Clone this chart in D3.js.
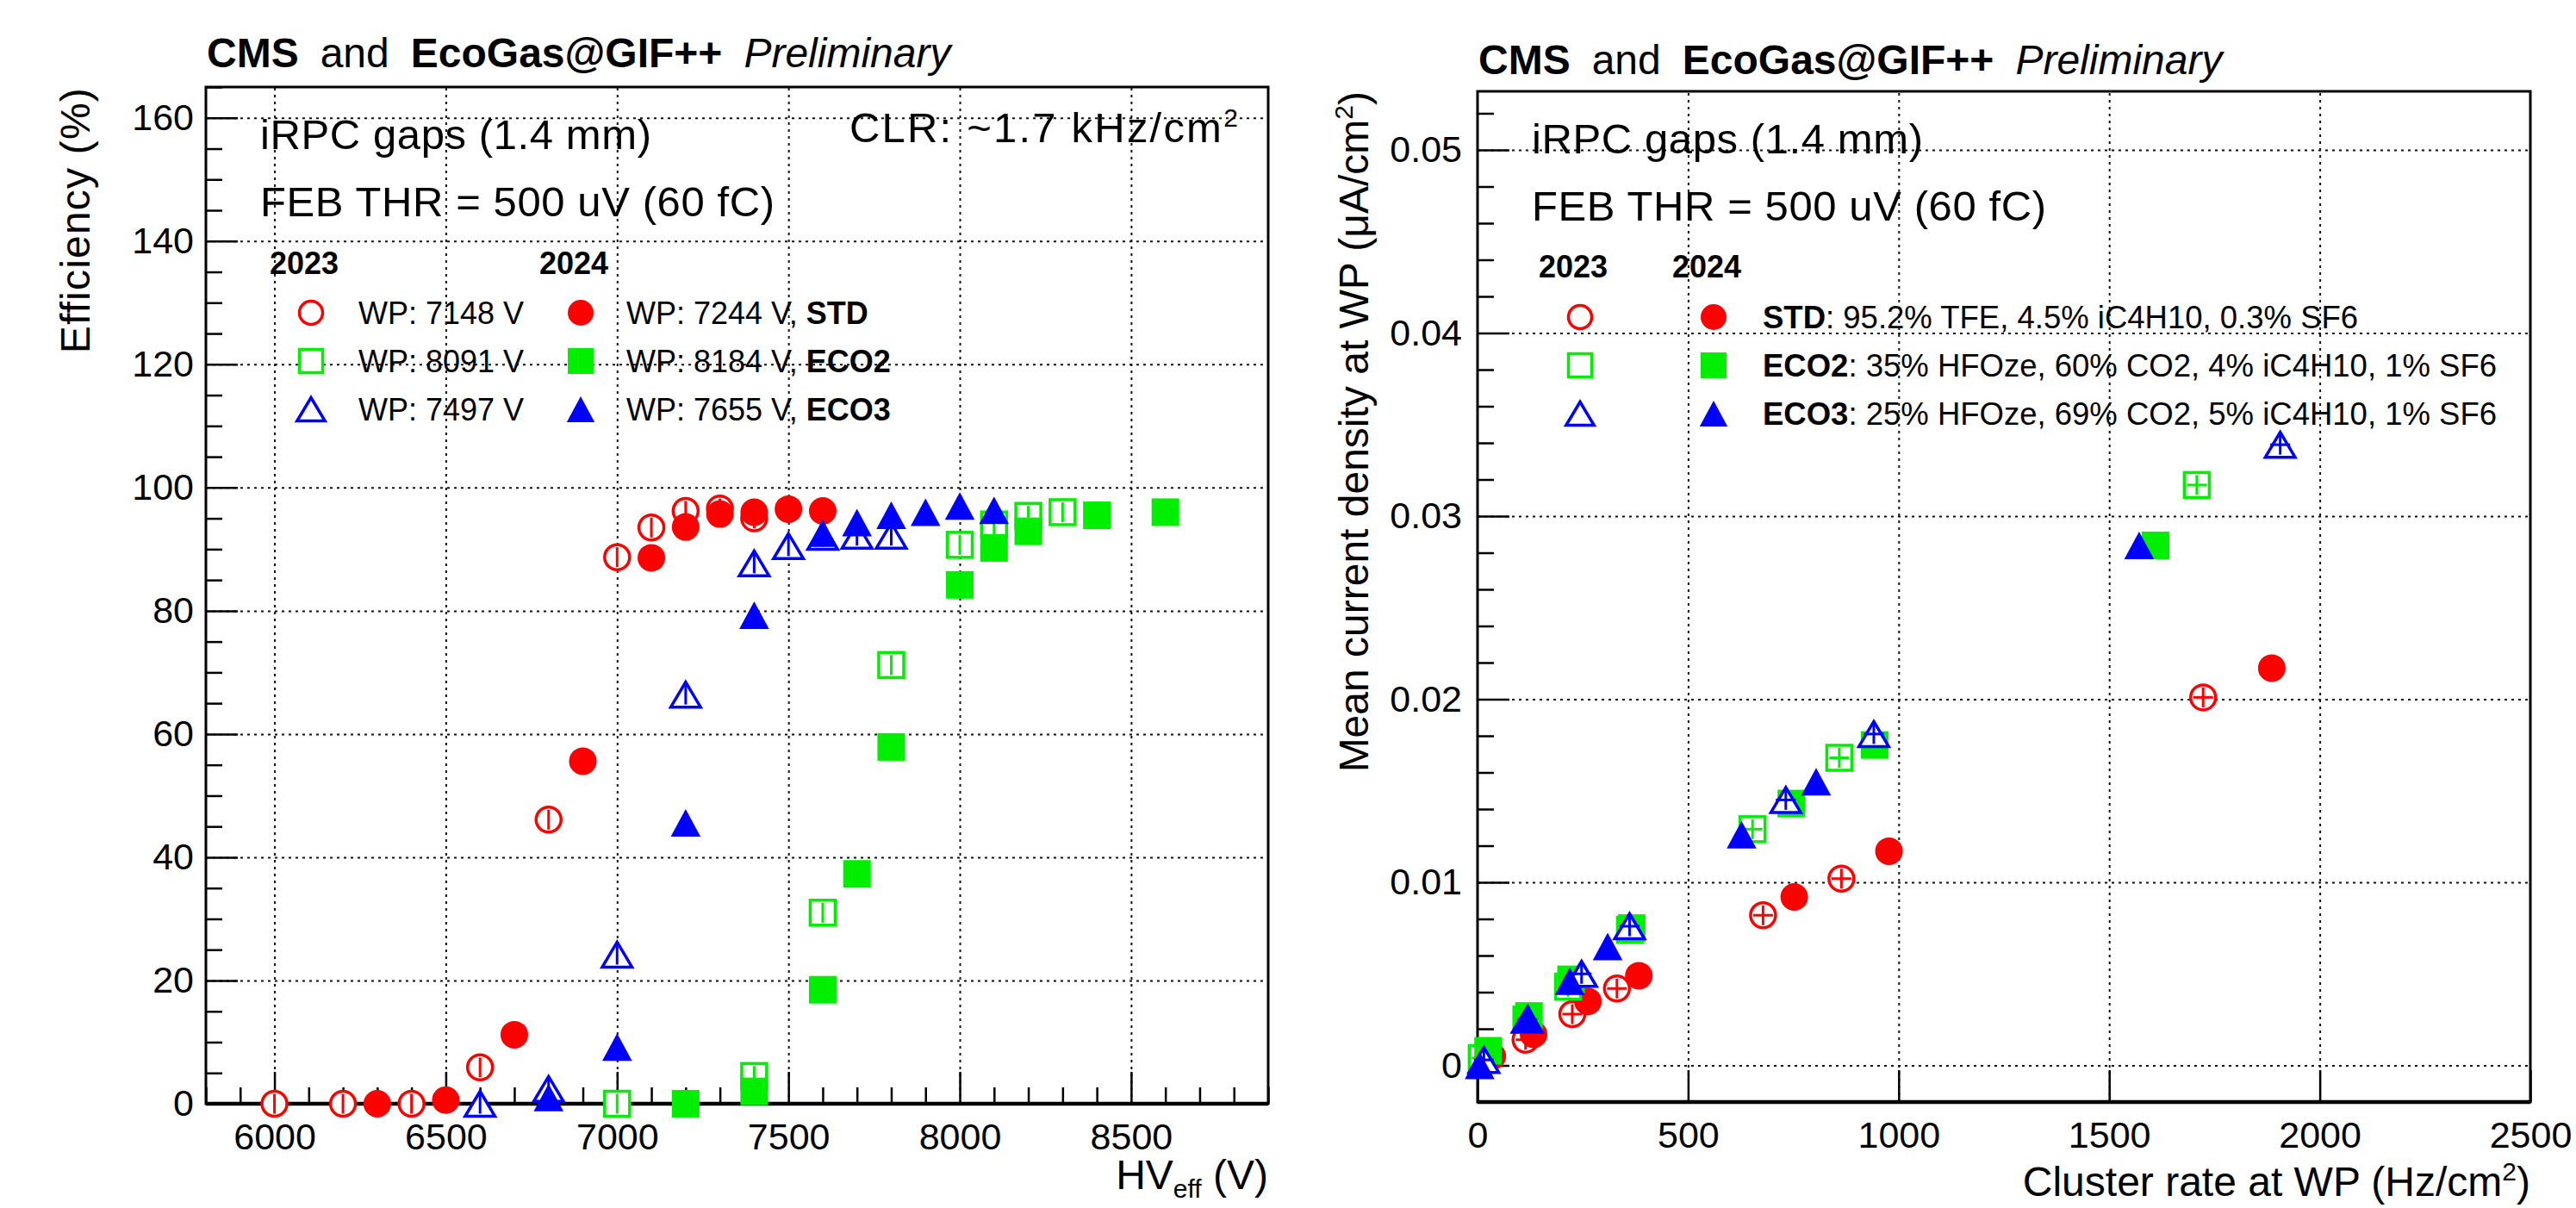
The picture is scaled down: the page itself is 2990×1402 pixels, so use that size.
<!DOCTYPE html>
<html>
<head>
<meta charset="utf-8">
<script src="https://cdn.jsdelivr.net/npm/d3@7"></script>
<style>
  body { margin: 0; background: #fff; }
  svg text { font-family: "Liberation Sans", Arial, Helvetica, sans-serif; fill: #000; }
</style>
</head>
<body>
<div id="chart"></div>
<script>
// ---- efficiency vs HV_eff (left pad) ----
const hvStd23  = [6000, 6200, 6400, 6600, 6800, 7000, 7100, 7200, 7300, 7400];
const effStd23 = [0, 0, 0, 5.9, 46.1, 88.7, 93.5, 96.2, 96.6, 95.0];
const hvStd24  = [6300, 6500, 6700, 6900, 7100, 7200, 7300, 7400, 7500, 7600];
const effStd24 = [0, 0.6, 11.2, 55.6, 88.6, 93.6, 95.7, 96.0, 96.5, 96.2];
const hvEco2_23  = [7000, 7400, 7600, 7800, 8000, 8100, 8200, 8300];
const effEco2_23 = [0, 4.5, 31.0, 71.2, 90.7, 94.0, 95.4, 96.0];
const hvEco2_24  = [7200, 7400, 7600, 7700, 7800, 8000, 8100, 8200, 8400, 8600];
const effEco2_24 = [0, 2.0, 18.5, 37.3, 57.9, 84.2, 90.2, 92.9, 95.5, 96.0];
const hvEco3_23  = [6600, 6800, 7000, 7200, 7400, 7500, 7600, 7700, 7800];
const effEco3_23 = [0, 2.4, 24.2, 66.4, 87.7, 90.5, 92.0, 92.2, 92.2];
const hvEco3_24  = [6800, 7000, 7200, 7400, 7600, 7700, 7800, 7900, 8000, 8100];
const effEco3_24 = [1.0, 9.2, 45.6, 79.3, 92.6, 94.3, 95.5, 96.0, 97.0, 96.3];

// ---- current density vs cluster rate (right pad) ----
const rateStd23 = [15, 114, 225, 331, 678, 864, 1723];
const curStd23  = [0.0002, 0.0014, 0.0028, 0.0042, 0.0082, 0.0102, 0.0201];
const rateStd24 = [35, 133, 262, 383, 752, 977, 1886];
const curStd24  = [0.0005, 0.0017, 0.0035, 0.0049, 0.0092, 0.0117, 0.0217];
const rateEco2_23 = [10, 116, 215, 362, 653, 859, 1708];
const curEco2_23  = [0.0004, 0.0025, 0.0043, 0.0074, 0.0129, 0.0168, 0.0317];
const rateEco2_24 = [25, 122, 222, 366, 745, 943, 1610];
const curEco2_24  = [0.0008, 0.0027, 0.0047, 0.0075, 0.0143, 0.0175, 0.0284];
const rateEco3_23 = [15, 118, 247, 361, 732, 941, 1906];
const curEco3_23  = [0.0003, 0.0025, 0.0050, 0.0076, 0.0145, 0.0181, 0.0339];
const rateEco3_24 = [5, 120, 219, 309, 627, 804, 1571];
const curEco3_24  = [0.0000, 0.0026, 0.0046, 0.0065, 0.0126, 0.0155, 0.0284];

// tick labels
const hvTicks   = [6000, 6500, 7000, 7500, 8000, 8500];
const effTicks  = [0, 20, 40, 60, 80, 100, 120, 140, 160];
const rateTicks = [0, 500, 1000, 1500, 2000, 2500];
const curTicks  = [0, 0.01, 0.02, 0.03, 0.04, 0.05];

// legend text
const wp2023 = ["WP: 7148 V", "WP: 8091 V", "WP: 7497 V"];
const wp2024 = ["WP: 7244 V, ", "WP: 8184 V, ", "WP: 7655 V, "];
const gasNames = ["STD", "ECO2", "ECO3"];
const gasMix = [": 95.2% TFE, 4.5% iC4H10, 0.3% SF6",
                ": 35% HFOze, 60% CO2, 4% iC4H10, 1% SF6",
                ": 25% HFOze, 69% CO2, 5% iC4H10, 1% SF6"];

const RED = "#ff0000", GREEN = "#00ee00", BLUE = "#0000ff";
const MSIZE = 32;

const svg = d3.select("#chart").append("svg")
    .attr("width", 2990).attr("height", 1402)
    .style("display", "block");

// one ROOT style marker, centred on (cx, cy)
let drawMarker = function (g, shape, cx, cy, color, open, size, bars) {
    const s = size, h = s / 2;
    let el;
    if (shape === "circle") {
        el = g.append("ellipse").attr("cx", cx).attr("cy", cy)
            .attr("rx", open ? h - 1.5 : h).attr("ry", open ? h - 1.5 : h);
    } else if (shape === "square") {
        const a = open ? s - 3 : s;
        el = g.append("rect").attr("x", cx - a / 2).attr("y", cy - a / 2)
            .attr("width", a).attr("height", a);
    } else {
        const w = s * 1.08, hh = open ? s - 3 : s;
        const p = d3.path();
        p.moveTo(cx, cy - hh / 2);
        p.lineTo(cx + w / 2, cy + hh / 2);
        p.lineTo(cx - w / 2, cy + hh / 2);
        p.closePath();
        el = g.append("path").attr("d", p.toString());
    }
    if (open) {
        el.attr("fill", "#fff").attr("stroke", color).attr("stroke-width", 3.5);
        if (bars) {
            const l = s * 0.36;
            g.append("line").attr("x1", cx).attr("x2", cx)
                .attr("y1", cy - l).attr("y2", cy + l)
                .attr("stroke", color).attr("stroke-width", 3);
            if (bars === "cross") {
                g.append("line").attr("x1", cx - l).attr("x2", cx + l)
                    .attr("y1", cy).attr("y2", cy)
                    .attr("stroke", color).attr("stroke-width", 3);
            }
        }
    } else {
        el.attr("fill", color).attr("stroke", "none");
    }
};

let styleAxisText = function (sel, size) {
    sel.selectAll("text").attr("font-size", size)
        .attr("font-family", "'Liberation Sans', Arial, sans-serif").attr("fill", "#000");
};

let drawPanel = function (p) {
    const g = svg.append("g");
    const x = d3.scaleLinear().domain(p.xDomain).range([p.x0, p.x1]);
    const y = d3.scaleLinear().domain(p.yDomain).range([p.y1, p.y0]);
    const fh = p.y1 - p.y0, fw = p.x1 - p.x0;

    // dotted grid
    g.append("g").attr("transform", `translate(0,${p.y1})`)
        .call(d3.axisBottom(x).tickValues(p.xGrid).tickSize(-fh).tickFormat(""))
        .call(a => a.select(".domain").remove())
        .selectAll("line").attr("stroke", "#111").attr("stroke-width", 2)
        .attr("stroke-dasharray", "3 5");
    g.append("g").attr("transform", `translate(${p.x0},0)`)
        .call(d3.axisLeft(y).tickValues(p.yGrid).tickSize(-fw).tickFormat(""))
        .call(a => a.select(".domain").remove())
        .selectAll("line").attr("stroke", "#111").attr("stroke-width", 2)
        .attr("stroke-dasharray", "3 5");

    // minor ticks
    if (p.xMinor.length) {
        g.append("g").attr("transform", `translate(0,${p.y1})`)
            .call(d3.axisBottom(x).tickValues(p.xMinor).tickSize(-19).tickFormat(""))
            .call(a => a.select(".domain").remove())
            .selectAll("line").attr("stroke", "#000").attr("stroke-width", 2.5);
    }
    g.append("g").attr("transform", `translate(${p.x0},0)`)
        .call(d3.axisLeft(y).tickValues(p.yMinor).tickSize(-19).tickFormat(""))
        .call(a => a.select(".domain").remove())
        .selectAll("line").attr("stroke", "#000").attr("stroke-width", 2.5);

    // major ticks + labels
    const ax = g.append("g").attr("transform", `translate(0,${p.y1})`)
        .call(d3.axisBottom(x).tickValues(p.xTicks).tickSize(-37).tickPadding(22)
            .tickFormat(p.xFmt))
        .call(a => a.select(".domain").remove());
    ax.selectAll("line").attr("stroke", "#000").attr("stroke-width", 2.5);
    styleAxisText(ax, 43);
    const ay = g.append("g").attr("transform", `translate(${p.x0},0)`)
        .call(d3.axisLeft(y).tickValues(p.yTicks).tickSize(-37).tickPadding(p.yPad)
            .tickFormat(p.yFmt))
        .call(a => a.select(".domain").remove());
    ay.selectAll("line").attr("stroke", "#000").attr("stroke-width", 2.5);
    styleAxisText(ay, 43);

    // frame, bottom edge a little heavier like the reference
    g.append("rect").attr("x", p.x0).attr("y", p.y0).attr("width", fw).attr("height", fh)
        .attr("fill", "none").attr("stroke", "#000").attr("stroke-width", 3);
    g.append("line").attr("x1", p.x0).attr("x2", p.x1).attr("y1", p.y1).attr("y2", p.y1)
        .attr("stroke", "#000").attr("stroke-width", 4.5);

    // graphs: red, green, blue; 2024 drawn over 2023
    const mk = g.append("g");
    p.series.forEach(s => {
        s.xs.forEach((v, i) => {
            drawMarker(mk, s.shape, x(v), y(s.ys[i]), s.color, s.open, MSIZE, s.open ? p.bars : null);
        });
    });

    // title
    const t = g.append("text").attr("x", p.x0 + 1).attr("y", p.titleY).attr("font-size", 48);
    t.append("tspan").attr("font-weight", "bold").text("CMS");
    t.append("tspan").attr("dx", 25).text("and");
    t.append("tspan").attr("dx", 25).attr("font-weight", "bold").text("EcoGas@GIF++");
    t.append("tspan").attr("dx", 25).attr("font-style", "italic").text("Preliminary");

    // pad labels
    g.append("text").attr("x", p.x0 + 63).attr("y", p.y0 + 72).attr("font-size", 49)
        .attr("letter-spacing", 0.6).text("iRPC gaps (1.4 mm)");
    g.append("text").attr("x", p.x0 + 63).attr("y", p.y0 + 150).attr("font-size", 49)
        .attr("letter-spacing", 0.6).text("FEB THR = 500 uV (60 fC)");

    return { g, x, y };
};

const left = drawPanel({
    x0: 239, x1: 1472, y0: 101, y1: 1281,
    xDomain: [5800, 8900], yDomain: [0, 165],
    xTicks: hvTicks, yTicks: effTicks,
    xGrid: hvTicks, yGrid: effTicks.filter(v => v > 0),
    xMinor: d3.range(58, 90).map(v => v * 100).filter(v => v % 500),
    yMinor: d3.range(0, 34).map(v => v * 5).filter(v => v % 20),
    xFmt: d3.format("d"), yFmt: d3.format("d"), yPad: 14,
    titleY: 78, bars: "v",
    series: [
        { xs: hvStd23, ys: effStd23, shape: "circle", color: RED, open: true },
        { xs: hvStd24, ys: effStd24, shape: "circle", color: RED, open: false },
        { xs: hvEco2_23, ys: effEco2_23, shape: "square", color: GREEN, open: true },
        { xs: hvEco2_24, ys: effEco2_24, shape: "square", color: GREEN, open: false },
        { xs: hvEco3_23, ys: effEco3_23, shape: "triangle", color: BLUE, open: true },
        { xs: hvEco3_24, ys: effEco3_24, shape: "triangle", color: BLUE, open: false }
    ]
});

const right = drawPanel({
    x0: 1715, x1: 2937, y0: 106, y1: 1279,
    xDomain: [0, 2500], yDomain: [-0.002, 0.0532],
    xTicks: rateTicks, yTicks: curTicks,
    xGrid: rateTicks.slice(1, -1), yGrid: curTicks,
    xMinor: [],
    yMinor: d3.range(-1, 27).map(v => v * 0.002).filter((v, i) => (i - 1) % 5),
    xFmt: d3.format("d"), yFmt: v => v === 0 ? "0" : d3.format(".2f")(v), yPad: 18,
    titleY: 86, bars: "cross",
    series: [
        { xs: rateStd23, ys: curStd23, shape: "circle", color: RED, open: true },
        { xs: rateStd24, ys: curStd24, shape: "circle", color: RED, open: false },
        { xs: rateEco2_23, ys: curEco2_23, shape: "square", color: GREEN, open: true },
        { xs: rateEco2_24, ys: curEco2_24, shape: "square", color: GREEN, open: false },
        { xs: rateEco3_23, ys: curEco3_23, shape: "triangle", color: BLUE, open: true },
        { xs: rateEco3_24, ys: curEco3_24, shape: "triangle", color: BLUE, open: false }
    ]
});

const shapes = ["circle", "square", "triangle"];
const colors = [RED, GREEN, BLUE];

// left legend
let lg = left.g.append("g");
lg.append("text").attr("x", 313).attr("y", 318).attr("font-size", 36).attr("font-weight", "bold").text("2023");
lg.append("text").attr("x", 626).attr("y", 318).attr("font-size", 36).attr("font-weight", "bold").text("2024");
shapes.forEach((s, i) => {
    const cy = 363 + i * 56;
    drawMarker(lg, s, 361, cy, colors[i], true, 30, null);
    drawMarker(lg, s, 674, cy, colors[i], false, 30, null);
    lg.append("text").attr("x", 416).attr("y", cy + 13).attr("font-size", 36).text(wp2023[i]);
    const t = lg.append("text").attr("x", 727).attr("y", cy + 13).attr("font-size", 36);
    t.append("tspan").text(wp2024[i]);
    t.append("tspan").attr("font-weight", "bold").text(gasNames[i]);
});
left.g.append("text").attr("x", 986).attr("y", 165).attr("font-size", 49)
    .attr("letter-spacing", 2.2)
    .html("CLR: ~1.7 kHz/cm<tspan font-size='30' dy='-18'>2</tspan>");

// right legend
let rg = right.g.append("g");
rg.append("text").attr("x", 1786).attr("y", 322).attr("font-size", 36).attr("font-weight", "bold").text("2023");
rg.append("text").attr("x", 1941).attr("y", 322).attr("font-size", 36).attr("font-weight", "bold").text("2024");
shapes.forEach((s, i) => {
    const cy = 368 + i * 56;
    drawMarker(rg, s, 1834, cy, colors[i], true, 30, null);
    drawMarker(rg, s, 1989, cy, colors[i], false, 30, null);
    const t = rg.append("text").attr("x", 2046).attr("y", cy + 13).attr("font-size", 36.5);
    t.append("tspan").attr("font-weight", "bold").text(gasNames[i]);
    t.append("tspan").text(gasMix[i]);
});

// axis titles
svg.append("text").attr("transform", "translate(104,101) rotate(-90)")
    .attr("text-anchor", "end").attr("font-size", 48).attr("letter-spacing", 1.2)
    .text("Efficiency (%)");
svg.append("text").attr("transform", "translate(1588,106) rotate(-90)")
    .attr("text-anchor", "end").attr("font-size", 48)
    .html("Mean current density at WP (\u03bcA/cm<tspan font-size='30' dy='-18'>2</tspan><tspan dy='18'>)</tspan>");
svg.append("text").attr("x", 1472).attr("y", 1380).attr("text-anchor", "end").attr("font-size", 48)
    .html("HV<tspan font-size='30' dy='10'>eff</tspan><tspan dy='-10'> (V)</tspan>");
svg.append("text").attr("x", 2937).attr("y", 1388).attr("text-anchor", "end").attr("font-size", 48)
    .html("Cluster rate at WP (Hz/cm<tspan font-size='30' dy='-18'>2</tspan><tspan dy='18'>)</tspan>");
</script>
</body>
</html>
